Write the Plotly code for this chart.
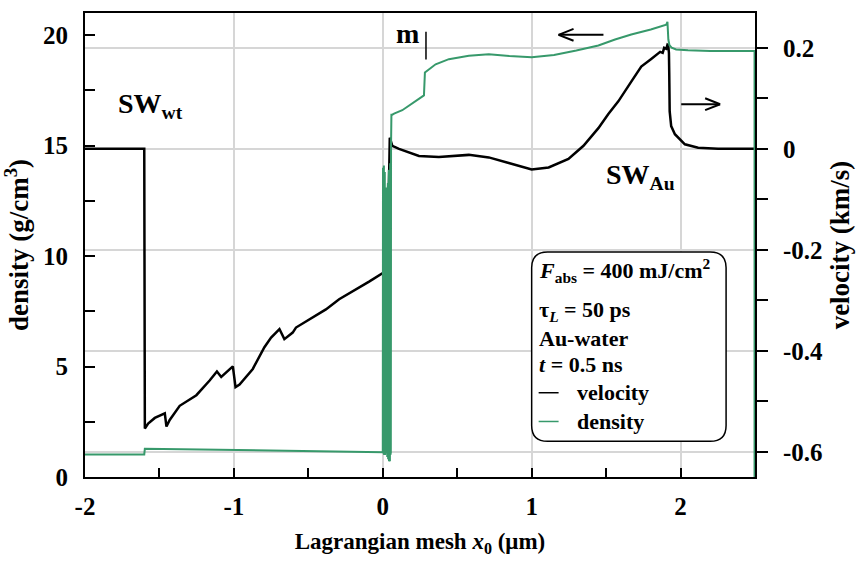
import plotly.graph_objects as go

# ---------------- data ----------------
x_density = [-2.0, -1.602, -1.598, -1.2, -0.8, -0.4, -0.005,
             0.000, 0.0015, 0.003, 0.0045, 0.006, 0.0075, 0.009, 0.0105, 0.012,
             0.0135, 0.015, 0.0165, 0.018, 0.0195, 0.021, 0.0225, 0.024, 0.0255,
             0.027, 0.0285, 0.030, 0.0315, 0.033, 0.0345, 0.036, 0.0375, 0.039,
             0.0405, 0.042, 0.0435, 0.045, 0.0465, 0.048, 0.0495, 0.051, 0.0525,
             0.054, 0.0555, 0.057, 0.058,
             0.064, 0.076, 0.131, 0.198, 0.2765, 0.283, 0.355, 0.444, 0.578,
             0.712, 0.85, 1.0, 1.15, 1.3, 1.448, 1.56, 1.669, 1.8, 1.904,
             1.912, 1.918, 1.925, 1.94, 1.97, 2.05, 2.2, 2.497, 2.497]
density = [1.02, 1.02, 1.28, 1.24, 1.20, 1.16, 1.13,
           1.12, 14.0, 1.1, 13.6, 1.05, 14.1, 1.0, 13.2, 1.1,
           13.8, 1.0, 12.9, 1.2, 13.0, 6.0, 12.6, 5.5, 13.1,
           1.0, 12.2, 0.9, 12.8, 0.85, 13.3, 0.8, 12.5, 0.75,
           13.9, 0.72, 12.7, 0.7, 13.6, 0.72, 14.2, 1.0, 12.0,
           1.1, 15.0, 15.8, 16.4,
           16.40, 16.45, 16.6, 16.9, 17.27, 18.31, 18.68, 18.91, 19.06,
           19.13, 19.05, 19.0, 19.1, 19.3, 19.53, 19.8, 20.03, 20.25, 20.47,
           20.6, 19.8, 19.55, 19.43, 19.35, 19.31, 19.28, 19.28, 0.0]

x_velocity = [-2.0, -1.602, -1.598, -1.576, -1.531, -1.464, -1.453, -1.431,
              -1.364, -1.252, -1.163, -1.114, -1.085, -1.007, -0.989, -0.962,
              -0.873, -0.795, -0.750, -0.694, -0.661, -0.605, -0.583, -0.493,
              -0.382, -0.293, -0.192, -0.092, 0.0, 0.02, 0.04, 0.047, 0.064,
              0.109, 0.243, 0.377, 0.578, 0.712, 0.846, 1.0, 1.114, 1.247,
              1.348, 1.448, 1.515, 1.582, 1.669, 1.736, 1.803, 1.863, 1.88,
              1.89, 1.904, 1.912, 1.917, 1.922, 1.924, 1.927, 1.937, 1.962,
              2.029, 2.118, 2.252, 2.5]
velocity = [0.0, 0.0, -0.554, -0.544, -0.533, -0.524, -0.550, -0.537,
            -0.509, -0.488, -0.459, -0.441, -0.452, -0.431, -0.472, -0.467,
            -0.436, -0.393, -0.374, -0.357, -0.377, -0.364, -0.354, -0.338,
            -0.318, -0.298, -0.281, -0.263, -0.246, -0.24, -0.1, 0.022, 0.006,
            0.0, -0.014, -0.016, -0.012, -0.017, -0.028, -0.041, -0.037, -0.020,
            0.006, 0.041, 0.069, 0.094, 0.133, 0.163, 0.178, 0.192, 0.19,
            0.2, 0.198, 0.206, 0.205, 0.19, 0.15, 0.074, 0.045, 0.029,
            0.009, 0.002, 0.0, 0.0]

x_ticks = [-2, -1, 0, 1, 2]
x_ticktext = ["-2", "-1", "0", "1", "2"]
x_minor = [-1.5, -0.5, 0.5, 1.5]
dens_ticks = [0, 5, 10, 15, 20]
dens_minor = [2.5, 7.5, 12.5, 17.5]
vel_ticks = [0.2, 0.0, -0.2, -0.4, -0.6]
vel_ticktext = ["0.2", "0", "-0.2", "-0.4", "-0.6"]
vel_minor = [0.1, -0.1, -0.3, -0.5]

# ---------------- style ----------------
FONT = "Liberation Serif"
GREEN = "#37996b"
GRID = "#d6d6d6"
W, H = 861, 561
L, R, T, B = 85, 757, 11, 479


def px(x):
    return (x - L) / (R - L)


def py(y):
    return (B - y) / (B - T)


fig = go.Figure()
fig.add_trace(go.Scatter(x=x_velocity, y=velocity, mode="lines", name="velocity",
                         line=dict(color="black", width=2.5), yaxis="y"))
fig.add_trace(go.Scatter(x=x_density, y=density, mode="lines", name="density",
                         line=dict(color=GREEN, width=2), yaxis="y2"))

axis_common = dict(showline=True, linecolor="black", linewidth=2, zeroline=False,
                   tickcolor="black", tickwidth=1.5,
                   tickfont=dict(family=FONT, size=25, color="black", weight="bold"))

fig.update_layout(
    width=W, height=H,
    margin=dict(l=L, r=W - R, t=T, b=H - B),
    paper_bgcolor="white", plot_bgcolor="white",
    font=dict(family=FONT, color="black", weight="bold"),
    showlegend=False,
    xaxis=dict(range=[-2, 2.5], tickvals=x_ticks, ticktext=x_ticktext,
               ticks="inside", ticklen=9, mirror=True,
               minor=dict(tickvals=x_minor, ticks="inside", ticklen=9,
                          tickcolor="black", tickwidth=1.5, showgrid=False),
               showgrid=True, gridcolor=GRID, gridwidth=1.5,
               ticklabelstandoff=6,
               title=dict(text="Lagrangian mesh <i>x</i><sub>0</sub> (μm)",
                          font=dict(family=FONT, size=23, weight="bold"), standoff=14),
               **axis_common),
    yaxis=dict(range=[-0.65, 0.269], side="right", tickvals=vel_ticks,
               ticktext=vel_ticktext, ticks="outside", ticklen=11,
               minor=dict(tickvals=vel_minor, ticks="outside", ticklen=11,
                          tickcolor="black", tickwidth=1.5, showgrid=False),
               showgrid=True, gridcolor=GRID, gridwidth=1.5,
               ticklabelstandoff=10, layer="below traces",
               title=dict(text="velocity (km/s)",
                          font=dict(family=FONT, size=27, weight="bold"), standoff=8),
               **axis_common),
    yaxis2=dict(range=[0, 21], overlaying="y", side="left", tickvals=dens_ticks,
                ticks="inside", ticklen=10,
                minor=dict(tickvals=dens_minor, ticks="inside", ticklen=10,
                           tickcolor="black", tickwidth=1.5),
                showgrid=False, ticklabelstandoff=10,
                title=dict(text="density (g/cm<sup>3</sup>)",
                           font=dict(family=FONT, size=27, weight="bold"), standoff=8),
                **axis_common),
)

shapes = []
# "m" marker line
shapes.append(dict(type="line", xref="paper", yref="paper",
                   x0=px(427), x1=px(427), y0=py(30), y1=py(58),
                   line=dict(color="black", width=1.5)))
# left arrow (head at 560, y=33)
for seg in [((605, 33), (560, 33)), ((560, 33), (575, 27)), ((560, 33), (575, 39))]:
    shapes.append(dict(type="line", xref="paper", yref="paper",
                       x0=px(seg[0][0]), y0=py(seg[0][1]), x1=px(seg[1][0]), y1=py(seg[1][1]),
                       line=dict(color="black", width=2)))
# right arrow (head at 722, y=103)
for seg in [((683, 103), (722, 103)), ((722, 103), (707, 97)), ((722, 103), (707, 109))]:
    shapes.append(dict(type="line", xref="paper", yref="paper",
                       x0=px(seg[0][0]), y0=py(seg[0][1]), x1=px(seg[1][0]), y1=py(seg[1][1]),
                       line=dict(color="black", width=2)))

# rounded legend box
bx0, bx1, by0, by1, r = 533, 728, 252, 443, 16
pts = [
    ("M", [(bx0 + r, by0)]), ("L", [(bx1 - r, by0)]), ("Q", [(bx1, by0), (bx1, by0 + r)]),
    ("L", [(bx1, by1 - r)]), ("Q", [(bx1, by1), (bx1 - r, by1)]),
    ("L", [(bx0 + r, by1)]), ("Q", [(bx0, by1), (bx0, by1 - r)]),
    ("L", [(bx0, by0 + r)]), ("Q", [(bx0, by0), (bx0 + r, by0)]),
]
path = ""
for cmd, pl in pts:
    path += cmd + " " + " ".join(f"{px(a):.5f},{py(b):.5f}" for a, b in pl) + " "
path += "Z"
shapes.append(dict(type="path", xref="paper", yref="paper", path=path,
                   line=dict(color="black", width=1.5), fillcolor="rgba(255,255,255,1)",
                   layer="above"))
# legend samples
shapes.append(dict(type="line", xref="paper", yref="paper", x0=px(540), x1=px(560),
                   y0=py(394), y1=py(394), line=dict(color="black", width=1.5)))
shapes.append(dict(type="line", xref="paper", yref="paper", x0=px(540), x1=px(560),
                   y0=py(423), y1=py(423), line=dict(color=GREEN, width=1.5)))
fig.update_layout(shapes=shapes)

ann = []


def text(t, x, y, size, xanchor="left", yanchor="middle"):
    ann.append(dict(text=t, x=px(x), y=py(y), xref="paper", yref="paper",
                    showarrow=False, xanchor=xanchor, yanchor=yanchor,
                    font=dict(family=FONT, size=size, color="black", weight="bold")))


text("m", 408, 32, 28, xanchor="center")
text("SW<sub>wt</sub>", 116, 104, 28)
text("SW<sub>Au</sub>", 606, 176, 28)
text("<i>F</i><sub>abs</sub> = 400 mJ/cm<sup>2</sup>", 538, 271, 22)
text("τ<sub><i>L</i></sub> = 50 ps", 538, 312, 22)
text("Au-water", 538, 339, 22)
text("<i>t</i> = 0.5 ns", 538, 366, 22)
text("velocity", 576, 394, 22)
text("density", 576, 423, 22)
fig.update_layout(annotations=ann)

fig.write_html("out.html")
